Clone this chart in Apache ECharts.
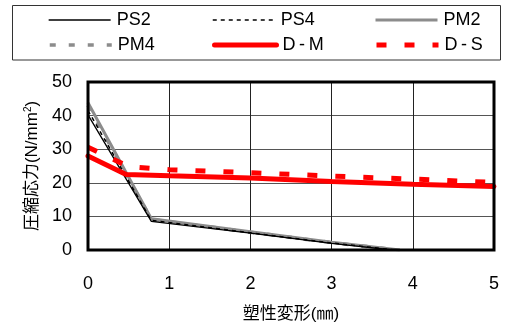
<!DOCTYPE html>
<html><head><meta charset="utf-8">
<script src="https://cdn.jsdelivr.net/npm/echarts@6/dist/echarts.min.js"></script>
<style>html,body{margin:0;padding:0;background:#fff}#c{width:506px;height:324px}</style>
</head><body><div id="c"></div>
<script>
const FONT = "'Liberation Sans Narrow','Liberation Sans','Noto Sans CJK JP',sans-serif";
const xTicks = [0, 1, 2, 3, 4, 5];
const yTicks = [0, 10, 20, 30, 40, 50];
const seriesNames = ['PS2', 'PS4', 'PM2', 'PM4', 'D-M', 'D-S'];
const ps2X = [0, 0.78, 2, 3, 3.75];
const ps2Y = [40.2, 8.5, 5.0, 2.0, 0];
const ps4X = [0, 0.78, 2, 3, 3.78];
const ps4Y = [41.5, 8.8, 5.1, 2.1, 0];
const pm2X = [0, 0.78, 2, 3, 3.84];
const pm2Y = [43.8, 9.3, 5.4, 2.3, 0];
const pm4X = [0, 0.78, 2, 3, 3.82];
const pm4Y = [43.0, 9.1, 5.3, 2.2, 0];
const dmX = [0, 0.47, 1, 2, 3, 4, 5];
const dmY = [28.0, 22.5, 22.1, 21.4, 20.4, 19.6, 18.9];
const dsX = [0, 0.5, 1, 2, 3, 4, 5];
const dsY = [30.6, 24.8, 23.9, 23.0, 22.0, 21.1, 20.1];

function pairs(xs, ys) { return xs.map((x, i) => [x, ys[i]]); }

const styles = [
  {color: '#000', width: 1.3, type: 'solid'},
  {color: '#000', width: 1.5, type: [4, 4]},
  {color: '#8c8c8c', width: 3, type: 'solid'},
  {color: '#8c8c8c', width: 3.5, type: [6, 13]},
  {color: '#ff0000', width: 5, type: 'solid', cap: 'round'},
  {color: '#ff0000', width: 5, type: [10, 18]}
];
const datas = [pairs(ps2X, ps2Y), pairs(ps4X, ps4Y), pairs(pm2X, pm2Y), pairs(pm4X, pm4Y), pairs(dmX, dmY), pairs(dsX, dsY)];
const order = [2, 3, 0, 1, 5, 4];

const series = order.map(i => ({
  name: seriesNames[i], type: 'line', data: datas[i], symbol: 'none', showSymbol: false, silent: true, animation: false,
  lineStyle: {color: styles[i].color, width: styles[i].width, type: styles[i].type, cap: styles[i].cap || 'butt'},
  itemStyle: {color: styles[i].color}
}));

const legPos = [[48, 19], [212, 19], [374, 19], [48, 44], [212, 44], [374, 44]];
const legendText = {'D-M': 'D\u2009-\u2009M', 'D-S': 'D\u2009-\u2009S'};
const legends = seriesNames.map((n, i) => ({
  data: [n], left: legPos[i][0], top: legPos[i][1] - 8, itemWidth: 62, itemHeight: 16, padding: 0,
  selectedMode: false,
  itemStyle: {opacity: 0},
  lineStyle: {color: styles[i].color, width: styles[i].width, type: styles[i].type, cap: styles[i].cap || 'butt'},
  formatter: nm => legendText[nm] || nm,
  textStyle: {fontFamily: FONT, fontSize: 18, color: '#000', padding: [0, 0, 0, 1]}
}));

const chart = echarts.init(document.getElementById('c'), null, {renderer: 'canvas'});
chart.setOption({
  animation: false,
  backgroundColor: '#fff',
  graphic: [{type: 'rect', shape: {x: 12.5, y: 5.5, width: 488, height: 54.5}, style: {fill: 'none', stroke: '#333', lineWidth: 1}, z: 0}],
  legend: legends,
  grid: {left: 88, right: 12, top: 82, bottom: 74, show: true, borderColor: '#000', borderWidth: 3, backgroundColor: 'transparent', z: 10,
    containLabel: false, outerBoundsMode: 'none'},
  xAxis: {
    type: 'value', min: xTicks[0], max: xTicks[xTicks.length - 1], interval: 1,
    axisLine: {show: false}, axisTick: {show: false},
    splitLine: {show: true, lineStyle: {color: '#222', width: 1}},
    axisLabel: {fontFamily: FONT, fontSize: 18, color: '#000', margin: 25, formatter: v => xTicks.includes(v) ? String(v) : ''},
    name: '塑性変形(㎜)', nameLocation: 'middle', nameGap: 56,
    nameTextStyle: {fontFamily: FONT, fontSize: 17, color: '#000'}
  },
  yAxis: {
    type: 'value', min: yTicks[0], max: yTicks[yTicks.length - 1], interval: 10,
    axisLine: {show: false}, axisTick: {show: false},
    splitLine: {show: true, lineStyle: {color: '#555', width: 1}},
    axisLabel: {fontFamily: FONT, fontSize: 18, color: '#000', margin: 16, formatter: v => yTicks.includes(v) ? String(v) : ''},
    name: '圧縮応力(N/mm{sup|2})', nameLocation: 'middle', nameGap: 36, nameRotate: 90,
    nameTextStyle: {fontFamily: FONT, fontSize: 17, color: '#000',
      rich: {sup: {fontFamily: FONT, fontSize: 10, verticalAlign: 'top', padding: [0, 0, 8, 0], color: '#000'}}}
  },
  series: series
});
</script></body></html>
